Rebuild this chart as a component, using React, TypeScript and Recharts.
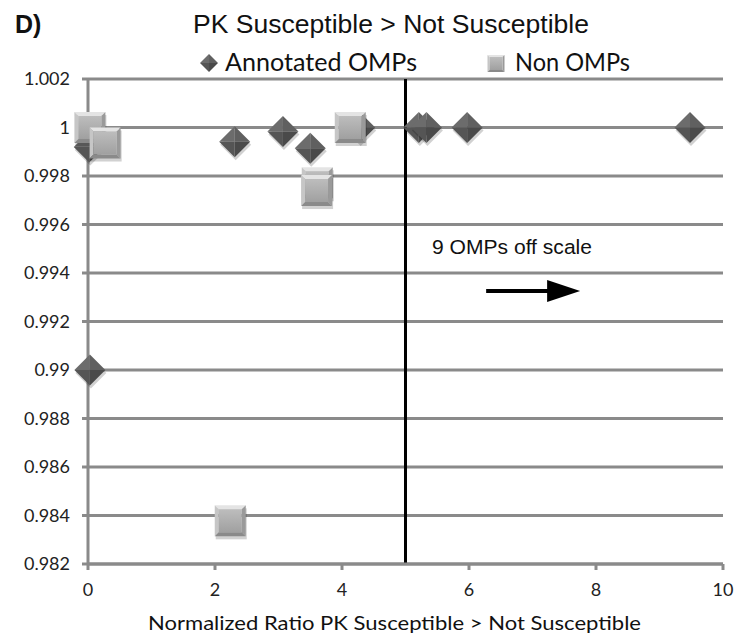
import React from 'react';
import { ScatterChart, Scatter, XAxis, YAxis, CartesianGrid, ReferenceLine } from 'recharts';

const annotatedX = [0.02, 0.03, 2.31, 3.07, 3.5, 4.28, 5.21, 5.33, 5.97, 9.48];
const annotatedY = [0.9992, 0.99, 0.99941, 0.99983, 0.99914, 1.0, 1.0, 1.0, 1.0, 1.0];
const nonOmpX = [0.03, 0.27, 3.61, 3.6, 4.13, 2.24];
const nonOmpY = [1.0, 0.99936, 0.99772, 0.9974, 1.0, 0.98378];
const xTicks = [0, 2, 4, 6, 8, 10];
const yTicks = [0.982, 0.984, 0.986, 0.988, 0.99, 0.992, 0.994, 0.996, 0.998, 1, 1.002];
const cutoffX = 5;
const arrowFrom = { x: 6.27, y: 0.99326 };
const arrowTo = { x: 7.75, y: 0.99326 };

const annotated = annotatedX.map((x, i) => ({ x, y: annotatedY[i] }));
const nonOmps = nonOmpX.map((x, i) => ({ x, y: nonOmpY[i] }));

const GRID = '#8a8a8a';
const CAL = 'Lato, "Open Sans", sans-serif';
const ARIAL = '"Liberation Sans", Arial, sans-serif';

function DiamondShape({ cx, cy, r = 15.5, shadow = true }: any) {
  if (cx == null || cy == null) return null;
  const L = `${cx - r},${cy}`, T = `${cx},${cy - r}`, R = `${cx + r},${cy}`, B = `${cx},${cy + r}`, C = `${cx},${cy}`;
  return (
    <g>
      {shadow && (
        <polygon
          points={`${cx - r + 1},${cy + 3} ${cx + 1},${cy - r + 3} ${cx + r + 1},${cy + 3} ${cx + 1},${cy + r + 3}`}
          fill="rgba(0,0,0,0.18)"
        />
      )}
      <polygon points={`${L} ${T} ${C}`} fill="#6c6c6c" />
      <polygon points={`${T} ${R} ${C}`} fill="#606060" />
      <polygon points={`${R} ${B} ${C}`} fill="#4a4a4a" />
      <polygon points={`${B} ${L} ${C}`} fill="#555555" />
    </g>
  );
}

function SquareShape({ cx, cy, s = 15.5, b = 4, shadow = true }: any) {
  if (cx == null || cy == null) return null;
  const x0 = cx - s, x1 = cx + s, y0 = cy - s, y1 = cy + s;
  const ix0 = x0 + b, ix1 = x1 - b, iy0 = y0 + b, iy1 = y1 - b;
  return (
    <g>
      <defs>
        <linearGradient id="sqFace" x1="0" y1="0" x2="0" y2="1">
          <stop offset="0" stopColor="#bdbdbd" />
          <stop offset="1" stopColor="#a0a0a0" />
        </linearGradient>
      </defs>
      {shadow && <rect x={x0 + 1} y={y0 + 3} width={2 * s} height={2 * s} fill="rgba(0,0,0,0.18)" />}
      <polygon points={`${x0},${y0} ${x1},${y0} ${ix1},${iy0} ${ix0},${iy0}`} fill="#e4e4e4" />
      <polygon points={`${x0},${y0} ${ix0},${iy0} ${ix0},${iy1} ${x0},${y1}`} fill="#c6c6c6" />
      <polygon points={`${x1},${y0} ${x1},${y1} ${ix1},${iy1} ${ix1},${iy0}`} fill="#9a9a9a" />
      <polygon points={`${x0},${y1} ${ix0},${iy1} ${ix1},${iy1} ${x1},${y1}`} fill="#8a8a8a" />
      <rect x={ix0} y={iy0} width={ix1 - ix0} height={iy1 - iy0} fill="url(#sqFace)" />
    </g>
  );
}

function ArrowShape(props: any) {
  const { x1, y1, x2, y2 } = props;
  if (x1 == null) return null;
  const head = 33;
  const half = 11;
  return (
    <g>
      <line x1={x1} y1={y1} x2={x2 - head + 2} y2={y2} stroke="#000" strokeWidth={4} />
      <polygon points={`${x2 - head},${y2 - half} ${x2},${y2} ${x2 - head},${y2 + half}`} fill="#000" />
    </g>
  );
}

const fmt = (v: number) => String(Number(v.toFixed(3)));

export default function App() {
  return (
    <div style={{ position: 'absolute', left: 0, top: 0, width: 747, height: 644, background: '#fff' }}>
      <ScatterChart width={747} height={644} margin={{ top: 79, right: 24, bottom: 0, left: 0 }}>
        <CartesianGrid horizontal vertical={false} stroke={GRID} strokeWidth={3} />
        <XAxis
          type="number"
          dataKey="x"
          domain={[0, 10]}
          ticks={xTicks}
          height={80}
          tickSize={6}
          tickMargin={13}
          axisLine={{ stroke: GRID, strokeWidth: 3 }}
          tickLine={{ stroke: GRID, strokeWidth: 3 }}
          tick={{ fill: '#222', fontSize: 18, fontFamily: CAL }}
        />
        <YAxis
          type="number"
          dataKey="y"
          domain={[0.982, 1.002]}
          ticks={yTicks}
          width={88}
          tickSize={6}
          tickMargin={12}
          tickFormatter={fmt}
          axisLine={{ stroke: GRID, strokeWidth: 3 }}
          tickLine={{ stroke: GRID, strokeWidth: 3 }}
          tick={{ fill: '#222', fontSize: 18, fontFamily: CAL }}
        />
        <ReferenceLine x={cutoffX} stroke="#000" strokeWidth={3} />
        <ReferenceLine segment={[arrowFrom, arrowTo]} shape={ArrowShape} />
        <Scatter name="Annotated OMPs" data={annotated} shape={<DiamondShape />} isAnimationActive={false} />
        <Scatter name="Non OMPs" data={nonOmps} shape={<SquareShape />} isAnimationActive={false} />
      </ScatterChart>
      <svg width={747} height={644} style={{ position: 'absolute', left: 0, top: 0, pointerEvents: 'none' }}>
        <text x={15} y={33} fontFamily={ARIAL} fontWeight="bold" fontSize={25} fill="#111">D)</text>
        <text x={193} y={33} fontFamily={ARIAL} fontSize={25} fill="#111" textLength={396} lengthAdjust="spacingAndGlyphs">
          PK Susceptible &gt; Not Susceptible
        </text>
        <DiamondShape cx={209} cy={63} r={9} shadow={false} />
        <text x={225} y={71} fontFamily={CAL} fontSize={25} fill="#111" textLength={192} lengthAdjust="spacingAndGlyphs">
          Annotated OMPs
        </text>
        <SquareShape cx={496} cy={63.5} s={8.5} b={2} shadow={false} />
        <text x={515} y={71} fontFamily={CAL} fontSize={25} fill="#111" textLength={115} lengthAdjust="spacingAndGlyphs">
          Non OMPs
        </text>
        <text x={432} y={254} fontFamily={ARIAL} fontSize={20.5} fill="#111" textLength={160} lengthAdjust="spacingAndGlyphs">
          9 OMPs off scale
        </text>
        <text x={148} y={630} fontFamily={CAL} fontSize={20} fill="#111" textLength={493} lengthAdjust="spacingAndGlyphs">
          Normalized Ratio PK Susceptible &gt; Not Susceptible
        </text>
      </svg>
    </div>
  );
}
